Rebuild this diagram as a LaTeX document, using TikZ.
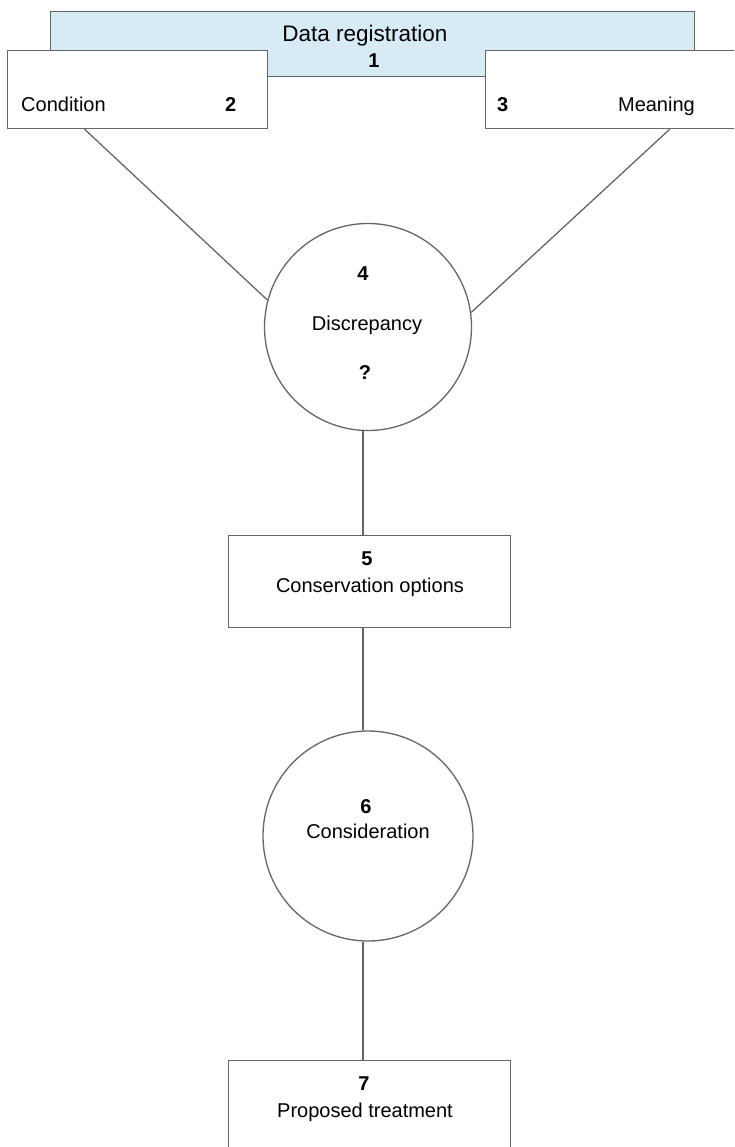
\documentclass[tikz,border=0pt]{standalone}
\usepackage{fontspec}
\setmainfont{Liberation Sans}
\definecolor{regblue}{HTML}{D6EBF4}
\definecolor{edgegray}{HTML}{666666}
\begin{document}
\begin{tikzpicture}[x=1pt,y=-1pt,
  boxshape/.style={draw=edgegray, line width=1.3pt, fill=white, inner sep=0pt, anchor=north west, rectangle},
  circshape/.style={draw=edgegray, line width=1.3pt, fill=white, inner sep=0pt, circle},
  conn/.style={draw=edgegray, line width=1.3pt},
  txt/.style={anchor=base, inner sep=0pt, font=\fontsize{20}{24}\selectfont},
  num/.style={anchor=base, inner sep=0pt, font=\fontsize{20}{24}\selectfont\bfseries}]
\useasboundingbox (0,0) rectangle (734,1147);
\clip (0,0) rectangle (734,1147);
% top boxes
\node[boxshape, fill=regblue, minimum width=644pt, minimum height=65pt] (b1) at (50,11) {};
\node[boxshape, minimum width=260pt, minimum height=78pt] (b2) at (7,50) {};
\node[boxshape, minimum width=260pt, minimum height=78pt] (b3) at (485,50) {};
\node[txt, font=\fontsize{22.5}{26}\selectfont] (t1) at (365,42) {Data registration};
\node[num] (n1) at (374,68) {1};
\node[txt, anchor=base west] (t2) at (21,112) {Condition};
\node[num, anchor=base west] (n2) at (225,112) {2};
\node[num, anchor=base west] (n3) at (497,112) {3};
\node[txt, anchor=base east] (t3) at (695,112) {Meaning};
% circle 4
\node[circshape, minimum size=207pt] (c4) at (368,327) {};
\node[num] (n4) at (363,280) {4};
\node[txt] (t4) at (367,330) {Discrepancy};
\node[num] (q4) at (365,379) {?};
% box 5
\node[boxshape, minimum width=282pt, minimum height=92pt] (b5) at (228,535) {};
\node[num] (n5) at (367,565) {5};
\node[txt] (t5) at (370,592) {Conservation options};
% circle 6
\node[circshape, minimum size=210pt] (c6) at (368,836) {};
\node[num] (n6) at (366,813) {6};
\node[txt] (t6) at (368,838) {Consideration};
% box 7
\node[boxshape, minimum width=282pt, minimum height=92pt] (b7) at (228,1060) {};
\node[num] (n7) at (364,1090) {7};
\node[txt] (t7) at (365,1117) {Proposed treatment};
% connectors
\coordinate (ax) at (363,0);
\draw[conn] ([xshift=-53pt]b2.south) -- (c4.165);
\draw[conn] ([xshift=54pt]b3.south) -- (c4.8);
\draw[conn] (c4.south -| ax) -- (b5.north -| ax);
\draw[conn] (b5.south -| ax) -- (c6.north -| ax);
\draw[conn] (c6.south -| ax) -- (b7.north -| ax);
\end{tikzpicture}
\end{document}
